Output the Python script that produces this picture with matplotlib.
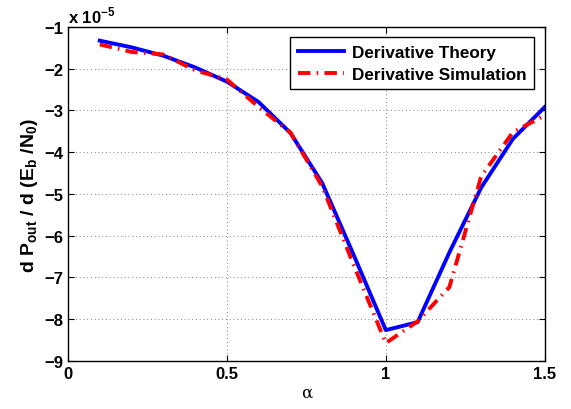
import numpy as np
import matplotlib
matplotlib.use('Agg')
import matplotlib.pyplot as plt

plt.rcParams['font.family'] = 'Liberation Sans'
plt.rcParams['font.weight'] = 'bold'
plt.rcParams['mathtext.fontset'] = 'custom'
plt.rcParams['mathtext.bf'] = 'Liberation Sans:bold'
plt.rcParams['mathtext.rm'] = 'Liberation Sans:bold'

alpha = [0.1, 0.2, 0.3, 0.4, 0.5, 0.6, 0.7, 0.8, 0.9, 1.0, 1.1, 1.2, 1.3, 1.4, 1.5]
# values in units of 1e-5
theory = [-1.33, -1.49, -1.69, -1.97, -2.31, -2.80, -3.54, -4.74, -6.48, -8.26, -8.07, -6.40, -4.85, -3.68, -2.92]
simulation = [-1.42, -1.60, -1.66, -2.04, -2.26, -2.92, -3.53, -4.82, -6.72, -8.57, -8.05, -7.23, -4.58, -3.52, -3.12]

fig = plt.figure(figsize=(5.71, 4.10), dpi=100)
ax = fig.add_axes([0.119, 0.117, 0.835, 0.815])

ax.plot(alpha, theory, color='#0000ff', lw=2.8, label='Derivative Theory')
ax.plot(alpha, simulation, color='#ff0000', lw=2.8, ls=(0, (3.2, 1.6, 0.4, 1.6)),
        label='Derivative Simulation')

ax.set_xlim(0, 1.5)
ax.set_ylim(-9, -1)
ax.set_xticks([0, 0.5, 1, 1.5])
ax.set_xticklabels(['0', '0.5', '1', '1.5'])
ax.set_yticks(np.arange(-9, 0))
ax.set_yticklabels(['\u2212%d' % abs(v) for v in range(-9, 0)])
ax.tick_params(direction='in', top=True, right=True, labelsize=12, length=4, width=0.8)
ax.grid(True, color='0.35', ls=(0, (1, 3.5)), lw=0.6)
for s in ax.spines.values():
    s.set_linewidth(1.0)

ax.text(0.0, 1.005, r'x 10$^{\mathbf{-5}}$', transform=ax.transAxes, fontsize=12,
        fontweight='bold', ha='left', va='bottom')

ax.set_xlabel('\u03b1', fontsize=12, fontweight='normal', family='DejaVu Serif', labelpad=2)
ax.set_ylabel(r'd P$_{\mathbf{out}}$ / d (E$_{\mathbf{b}}$ /N$_{\mathbf{0}}$)',
              fontsize=14, fontweight='bold', labelpad=3)

leg = ax.legend(loc='upper right', fontsize=12.3, fancybox=False, edgecolor='k',
                framealpha=1, borderaxespad=0.6, handlelength=2.7, borderpad=0.45,
                labelspacing=0.4, handletextpad=0.5)
leg.get_frame().set_linewidth(1.0)

fig.savefig('out.png', dpi=100)
